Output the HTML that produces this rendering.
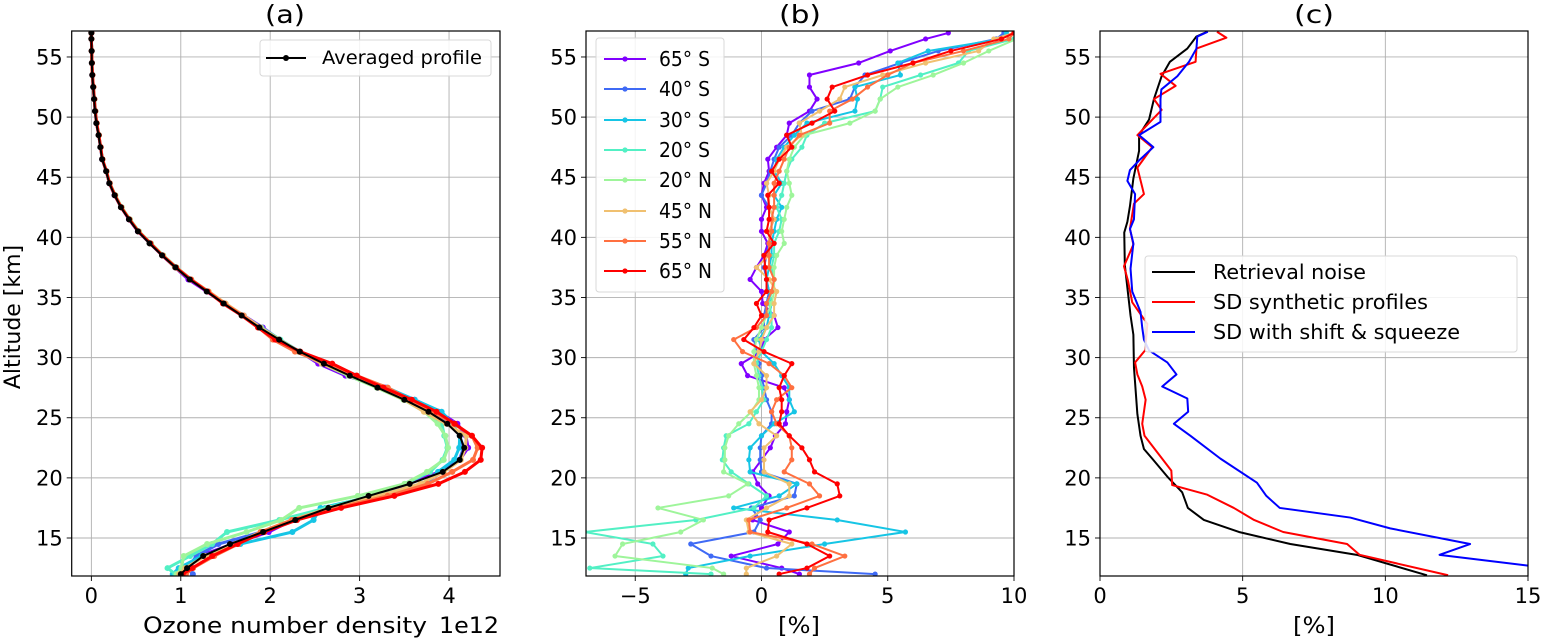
<!DOCTYPE html>
<html><head><meta charset="utf-8">
<style>
html,body{margin:0;padding:0;background:#fff;}
svg{display:block;font-family:"DejaVu Sans","Liberation Sans",sans-serif;}
</style></head>
<body>
<svg id="fig" width="1542" height="639" viewBox="0 0 1542 639" xmlns="http://www.w3.org/2000/svg"></svg>
<script>
// ---- data ----
const altB = [57,56.5,55.5,54.5,53.5,52.5,51.5,50.5,49.5,48.5,47.5,46.5,45.5,44.5,43.5,42.5,41.5,40.5,39.5,38.5,37.5,36.5,35.5,34.5,33.5,32.5,31.5,30.5,29.5,28.5,27.5,26.5,25.5,24.5,23.5,22.5,21.5,20.5,19.5,18.5,17.5,16.5,15.5,14.5,13.5,12.5,12];
const avgProfile = [0.0,0.0,0.003,0.005,0.01,0.02,0.03,0.04,0.055,0.08,0.1,0.12,0.165,0.2,0.26,0.33,0.42,0.52,0.65,0.79,0.94,1.1,1.29,1.48,1.68,1.88,2.1,2.33,2.6,2.89,3.2,3.5,3.77,3.98,4.12,4.17,4.12,3.93,3.56,3.1,2.65,2.28,1.92,1.55,1.25,1.07,1.0];
const latNames = ["65° S","40° S","30° S","20° S","20° N","45° N","55° N","65° N"];
const latColors = ["#8000ff","#3f6af5","#16c5e5","#52f0c4","#9ef59a","#f0c070","#ff7040","#ff0000"];
const s65S = [7.4,6.5,5.1,3.85,1.9,1.9,2.2,1.9,1.1,1.0,0.6,0.25,0.3,0.1,0,0.2,0,0,0.25,0.1,-0.2,-0.45,0,0.05,0.5,0.65,0.1,0,-0.8,-0.55,0.9,1.1,1.0,0.95,0.55,0.35,0,-0.35,-0.15,0.3,0,-0.35,1.1,0.65,-1.2,0.8,1.5];
const s40S = [9.6,9.3,7.0,5.5,4.1,3.7,3.5,2.0,1.5,1.2,0.7,0.5,0.35,0.2,0.0,0.3,0.5,0.3,0.3,0.2,0.1,0.2,0.3,0.2,0.1,0.1,-0.3,-0.2,-0.1,0.0,0.1,0.2,0.4,0.4,0.0,-0.05,-0.05,0.0,1.4,1.3,-0.4,-0.05,-0.3,-2.8,-2.0,0.2,4.5];
const s30S = [9.7,9.5,6.6,5.4,5.5,3.7,3.8,3.7,1.8,1.3,0.9,0.6,0.5,0.8,0.5,0.8,0.6,0.5,0.4,0.4,0.3,0.2,0.3,0.4,0.3,0.2,-0.1,0.0,0.5,0.8,1.1,1.1,1.3,0.5,0.0,-0.45,-0.5,-0.45,1.4,0.7,-1.1,3.0,5.7,2.5,-0.45,-2.9,-3.0];
const s20S = [10.2,10,8.2,7.8,6.3,4.8,4.7,4.5,2.5,1.8,1.6,1.2,1.0,0.9,0.8,0.6,0.8,0.7,0.5,0.5,0.4,0.5,0.4,0.3,0.4,0.4,0.2,0.0,-0.2,-0.1,0.0,0.1,-0.2,-0.5,-1.4,-1.5,-1.55,-1.2,-0.5,0.2,-0.3,-2.6,-7.0,-4.3,-3.9,-6.8,-2.0];
const s20N = [10.3,10.1,9.0,8.0,6.8,5.4,4.7,4.5,3.5,1.7,1.3,1.1,1.0,1.1,1.2,1.0,0.9,0.8,0.9,0.6,0.5,0.5,0.5,0.4,0.2,0.0,-0.2,-0.3,-0.3,-0.2,-0.1,-0.1,-0.4,-0.9,-1.3,-1.45,-1.45,-1.5,-0.55,-1.3,-4.1,-2.3,-3.2,-5.5,-5.8,-1.95,-1.5];
const s45N = [10,9.2,8.6,6.5,4.8,3.3,3.1,2.3,1.5,1.6,1.0,0.7,0.5,0.2,0.3,0.3,0.5,0.3,0.3,0.3,-0.2,0.3,0.6,0.5,0.5,0.2,0.0,-0.1,-0.3,0.2,0.2,0.0,-0.45,-0.1,0.6,0.1,0.1,0.1,1.1,1.1,0.2,-0.6,-0.5,1.2,0.6,-0.6,-0.6];
const s55N = [10,9.8,8.0,6.0,5.0,4.2,3.6,2.7,2.7,1.5,1.1,0.9,0.7,0.5,0.5,0.5,0.4,0.4,0.3,0.3,0.3,0.5,0.4,0.2,0.2,-0.2,-1.1,-0.75,0.3,0.9,1.2,0.6,0.4,0.6,1.1,1.2,1.2,0.9,1.9,2.3,1.0,-0.5,-0.45,2.0,3.3,2.1,1.9];
const s65N = [10,9.5,7.5,6.0,4.2,2.8,2.6,2.9,2.0,1.0,1.2,0.7,0.4,0.7,0.25,0.3,0.3,0.2,0.5,0.1,0.15,0.2,0.2,-0.2,0.0,-0.3,-0.7,0.1,1.2,0.9,0.7,0.8,0.8,0.7,1.1,1.6,1.9,2.1,3.0,3.1,1.8,0.3,0.25,1.8,2.7,1.8,0.7];
const latSeries = [s65S,s40S,s30S,s20S,s20N,s45N,s55N,s65N];
// panel c
const noiseAlt = [57.1,56.7,55.7,54.6,53.4,51.5,49.8,48.5,47.2,44.9,42.6,41.3,40.4,37.7,35.8,33.5,31.9,29.2,25.3,23.5,22.4,21.6,20.1,18.8,17.5,16.5,15.5,14.5,13.6,11.9];
const noiseVal = [3.76,3.38,3.06,2.45,2.16,1.89,1.72,1.37,1.37,1.17,1.05,0.96,0.85,0.87,0.96,1.07,1.17,1.19,1.31,1.42,1.54,1.83,2.36,2.88,3.08,3.64,4.87,6.67,9.0,11.46];
const synthAlt = [57.1,56.6,55.7,54.6,53.6,52.6,51.5,50.6,48.5,47.5,45.8,43.6,42.8,40.7,39.4,37.6,36.4,34.6,32.8,30.6,29.6,28.6,27.6,26.5,24.5,23.5,20.6,19.4,18.6,17.5,16.5,15.5,14.5,13.6,11.9];
const synthVal = [4.1,4.43,3.38,3.35,2.12,2.65,1.89,2.16,1.31,1.83,1.31,1.54,1.19,1.05,1.17,0.84,0.98,1.13,1.66,1.58,1.23,1.31,1.48,1.6,1.48,1.56,2.5,2.53,3.76,4.69,5.4,6.42,8.66,9.1,12.2];
const shiftAlt = [57.1,56.7,55.7,54.6,53.4,52.3,51.5,49.6,48.5,47.5,46.4,45.6,44.7,43.6,41.5,40.7,39.5,37.4,35.5,33.8,32.5,31.5,30.6,29.6,28.6,27.6,26.6,25.5,24.5,23.5,21.6,19.6,18.5,17.5,16.7,15.8,14.5,13.6,12.7];
const shiftVal = [3.78,3.41,3.38,3.12,2.71,2.15,2.12,2.12,1.37,1.87,1.37,1.05,0.96,1.23,1.19,1.05,1.17,1.07,1.13,1.42,1.48,1.54,1.72,2.36,2.68,2.18,3.06,3.09,2.59,3.17,4.22,5.5,5.83,6.3,8.77,10.17,12.97,11.9,15.0];
const yTicks = [15,20,25,30,35,40,45,50,55];
const aTicks = [0,1,2,3,4];
const bTicks = [-5,0,5,10];
const cTicks = [0,5,10,15];

// ---- drawing ----
const NS="http://www.w3.org/2000/svg";
const svg=document.getElementById('fig');
function el(tag,attrs,parent){const e=document.createElementNS(NS,tag);for(const k in attrs)e.setAttribute(k,attrs[k]);(parent||svg).appendChild(e);return e;}
const TOP=31,BOT=576,YMIN=11.84,YMAX=57.16;
function yS(v){return BOT-(v-YMIN)/(YMAX-YMIN)*(BOT-TOP);}
function mkX(x0,x1,v0,v1){return v=>x0+(v-v0)/(v1-v0)*(x1-x0);}
const panels=[
 {key:'a',x0:71.7,x1:500,xs:mkX(71.7,500,-0.22,4.57),ticks:aTicks,fmt:v=>String(v)},
 {key:'b',x0:586,x1:1014,xs:mkX(586,1014,-6.95,10),ticks:bTicks,fmt:v=>v<0?'\u2212'+(-v):String(v)},
 {key:'c',x0:1100,x1:1528,xs:mkX(1100,1528,0,15),ticks:cTicks,fmt:v=>String(v)}
];
const defs=el('defs',{});
panels.forEach(p=>{
  const cp=el('clipPath',{id:'clip-'+p.key},defs);
  el('rect',{x:p.x0,y:TOP,width:p.x1-p.x0,height:BOT-TOP},cp);
  const g=el('g',{});
  
  
  p.g=g;
  yTicks.forEach(t=>{
    const l=el('line',{x1:p.x0,x2:p.x1,y1:yS(t),y2:yS(t),stroke:'#b0b0b0','stroke-width':0.9},g);
    
    
    const tk=el('line',{x1:p.x0-5,x2:p.x0,y1:yS(t),y2:yS(t),stroke:'#000','stroke-width':0.9},g);
    
    
  });
  p.ticks.forEach(t=>{
    const x=p.xs(t);
    const l=el('line',{x1:x,x2:x,y1:TOP,y2:BOT,stroke:'#b0b0b0','stroke-width':0.9},g);
    
    
    const tk=el('line',{x1:x,x2:x,y1:BOT,y2:BOT+5,stroke:'#000','stroke-width':0.9},g);
    
    
    const tx=el('text',{x:x,y:BOT+27,'font-size':21,'text-anchor':'middle',fill:'#000'},g);
    tx.textContent=p.fmt(t);
    
    
  });
  p.data=el('g',{'clip-path':'url(#clip-'+p.key+')'},g);
});
panels.forEach(p=>{
  yTicks.forEach(t=>{
    const tx=el('text',{x:p.x0-9,y:yS(t)+7.5,'font-size':21,'text-anchor':'end',fill:'#000'},p.g);
    tx.textContent=String(t);
    
    
  });
});
function poly(parent,xs,ys,color,w,name){
  const pts=xs.map((x,i)=>x.toFixed(2)+','+ys[i].toFixed(2)).join(' ');
  const pl=el('polyline',{points:pts,fill:'none',stroke:color,'stroke-width':w,'stroke-linejoin':'round'},parent);
  
  
  return pl;
}
function dots(parent,xs,ys,color,r,name){
  xs.forEach((x,i)=>{
    const c=el('circle',{cx:x,cy:ys[i],r:r,fill:color},parent);
    
    
  });
}
// panel a
const pa=panels[0];
const yB=altB.map(yS);
latSeries.forEach((s,k)=>{
  const xs=avgProfile.map((v,i)=>pa.xs(v*(1+s[i]*3/100)));
  poly(pa.data,xs,yB,latColors[k],3,'profile-line-'+k);
  dots(pa.data,xs,yB,latColors[k],3,'profile-point');
});
const axA=avgProfile.map(v=>pa.xs(v));
poly(pa.data,axA,yB,'#000',2,'averaged-profile-line');
dots(pa.data,axA,yB,'#000',3,'averaged-profile-point');
// panel b
const pb=panels[1];
latSeries.forEach((s,k)=>{
  const xs=s.map(v=>pb.xs(v));
  poly(pb.data,xs,yB,latColors[k],2,'deviation-line-'+k);
  dots(pb.data,xs,yB,latColors[k],2.6,'deviation-point');
});
// panel c
const pc=panels[2];
poly(pc.data,noiseVal.map(v=>pc.xs(v)),noiseAlt.map(yS),'#000',2,'retrieval-noise-line');
poly(pc.data,synthVal.map(v=>pc.xs(v)),synthAlt.map(yS),'#ff0000',2,'sd-synthetic-line');
poly(pc.data,shiftVal.map(v=>pc.xs(v)),shiftAlt.map(yS),'#0000ff',2,'sd-shift-squeeze-line');
panels.forEach(p=>{
  const r=el('rect',{x:p.x0,y:TOP,width:p.x1-p.x0,height:BOT-TOP,fill:'none',stroke:'#000','stroke-width':1.2},p.g);
  
  
});
</script>
<svg style="position:absolute;left:0;top:0" width="1542" height="639" viewBox="0 0 1542 639" xmlns="http://www.w3.org/2000/svg" font-family="DejaVu Sans, Liberation Sans, sans-serif">
  <text x="265" y="23" font-size="25" textLength="40" lengthAdjust="spacingAndGlyphs">(a)</text>
  <text x="779" y="23" font-size="25" textLength="42" lengthAdjust="spacingAndGlyphs">(b)</text>
  <text x="1294" y="23" font-size="25" textLength="40" lengthAdjust="spacingAndGlyphs">(c)</text>
  <text x="20" y="317" font-size="22" text-anchor="middle" transform="rotate(-90 20 317)">Altitude [km]</text>
  <text x="143" y="633" font-size="22" textLength="284" lengthAdjust="spacingAndGlyphs">Ozone number density</text>
  <text x="439" y="633" font-size="22" textLength="60" lengthAdjust="spacingAndGlyphs">1e12</text>
  <text x="778" y="633" font-size="22" textLength="42" lengthAdjust="spacingAndGlyphs">[%]</text>
  <text x="1293" y="633" font-size="22" textLength="42" lengthAdjust="spacingAndGlyphs">[%]</text>
  <g>
    <rect x="260" y="40" width="231" height="36" rx="3" fill="#fff" fill-opacity="0.85" stroke="#d8d8d8"/>
    <line x1="266" y1="58" x2="306" y2="58" stroke="#000" stroke-width="2"/>
    <circle cx="286" cy="58" r="3" fill="#000"/>
    <text x="322" y="64" font-size="19" textLength="160" lengthAdjust="spacingAndGlyphs">Averaged profile</text>
  </g>
  <g font-size="20">
    <rect x="596" y="38" width="128" height="254" rx="3" fill="#fff" fill-opacity="0.85" stroke="#d8d8d8"/>
    <g><line x1="604" y1="59" x2="646" y2="59" stroke="#8000ff" stroke-width="2"/><circle cx="625" cy="59" r="2.6" fill="#8000ff"/><text x="659" y="66" textLength="51" lengthAdjust="spacingAndGlyphs">65° S</text></g>
    <g><line x1="604" y1="89" x2="646" y2="89" stroke="#3f6af5" stroke-width="2"/><circle cx="625" cy="89" r="2.6" fill="#3f6af5"/><text x="659" y="96" textLength="51" lengthAdjust="spacingAndGlyphs">40° S</text></g>
    <g><line x1="604" y1="120" x2="646" y2="120" stroke="#16c5e5" stroke-width="2"/><circle cx="625" cy="120" r="2.6" fill="#16c5e5"/><text x="659" y="127" textLength="51" lengthAdjust="spacingAndGlyphs">30° S</text></g>
    <g><line x1="604" y1="150" x2="646" y2="150" stroke="#52f0c4" stroke-width="2"/><circle cx="625" cy="150" r="2.6" fill="#52f0c4"/><text x="659" y="157" textLength="51" lengthAdjust="spacingAndGlyphs">20° S</text></g>
    <g><line x1="604" y1="180" x2="646" y2="180" stroke="#9ef59a" stroke-width="2"/><circle cx="625" cy="180" r="2.6" fill="#9ef59a"/><text x="659" y="187" textLength="53" lengthAdjust="spacingAndGlyphs">20° N</text></g>
    <g><line x1="604" y1="211" x2="646" y2="211" stroke="#f0c070" stroke-width="2"/><circle cx="625" cy="211" r="2.6" fill="#f0c070"/><text x="659" y="218" textLength="53" lengthAdjust="spacingAndGlyphs">45° N</text></g>
    <g><line x1="604" y1="241" x2="646" y2="241" stroke="#ff7040" stroke-width="2"/><circle cx="625" cy="241" r="2.6" fill="#ff7040"/><text x="659" y="248" textLength="53" lengthAdjust="spacingAndGlyphs">55° N</text></g>
    <g><line x1="604" y1="271" x2="646" y2="271" stroke="#ff0000" stroke-width="2"/><circle cx="625" cy="271" r="2.6" fill="#ff0000"/><text x="659" y="278" textLength="53" lengthAdjust="spacingAndGlyphs">65° N</text></g>
  </g>
  <g font-size="20">
    <rect x="1145" y="256" width="372" height="96" rx="3" fill="#fff" fill-opacity="0.85" stroke="#d8d8d8"/>
    <g><line x1="1152" y1="272" x2="1195" y2="272" stroke="#000" stroke-width="2"/><text x="1213" y="279" textLength="153" lengthAdjust="spacingAndGlyphs">Retrieval noise</text></g>
    <g><line x1="1152" y1="302" x2="1195" y2="302" stroke="#ff0000" stroke-width="2"/><text x="1213" y="309" textLength="215" lengthAdjust="spacingAndGlyphs">SD synthetic profiles</text></g>
    <g><line x1="1152" y1="332" x2="1195" y2="332" stroke="#0000ff" stroke-width="2"/><text x="1213" y="339" textLength="247" lengthAdjust="spacingAndGlyphs">SD with shift &amp; squeeze</text></g>
  </g>
</svg>
</body></html>
